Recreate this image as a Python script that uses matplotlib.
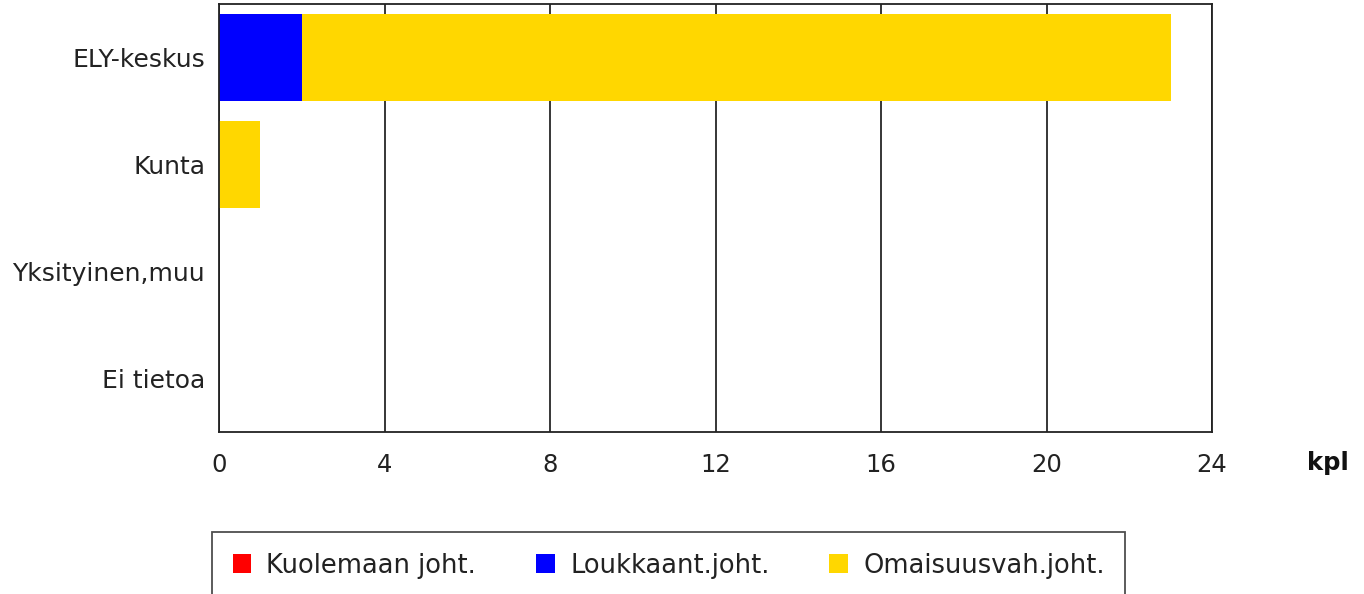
import matplotlib
matplotlib.use("Agg")
import matplotlib.pyplot as plt
from matplotlib.patches import Patch
import numpy as np

# Accident counts by road maintainer, stacked by severity
categories = ["ELY-keskus", "Kunta", "Yksityinen,muu", "Ei tietoa"]
fatal = [0, 0, 0, 0]
injury = [2, 0, 0, 0]
property_damage = [21, 1, 0, 0]

series_names = ["Kuolemaan joht.", "Loukkaant.joht.", "Omaisuusvah.joht."]
series_colors = ["#ff0000", "#0000ff", "#ffd700"]
x_ticks = [0, 4, 8, 12, 16, 20, 24]
unit_label = "kpl"

plt.rcParams["font.family"] = ["DejaVu Sans"]
FS = 18

W, H = 1364, 594
fig = plt.figure(figsize=(W / 100, H / 100), dpi=100)
ax = fig.add_axes([219 / W, 1 - 432 / H, (1212 - 219) / W, (432 - 4) / H])

y = np.arange(len(categories))
left = np.zeros(len(categories))
for vals, name, col in zip([fatal, injury, property_damage], series_names, series_colors):
    ax.barh(y, vals, left=left, height=0.81, color=col, label=name, zorder=2)
    left += np.array(vals)

ax.set_ylim(len(categories) - 0.5, -0.5)
ax.set_xlim(0, 24)
ax.set_xticks(x_ticks)
ax.set_xticklabels([str(t) for t in x_ticks], fontsize=17.5, color="#222222")
ax.set_yticks(y)
ax.set_yticklabels(categories, fontsize=FS, color="#222222")
ax.tick_params(axis="x", length=0, pad=15)
ax.tick_params(axis="y", length=0, pad=10)
ax.grid(axis="x", color="black", linewidth=1.1, zorder=1)
ax.set_axisbelow(True)
for sp in ax.spines.values():
    sp.set_color("#222222")
    sp.set_linewidth(1.3)

fig.text(1328 / W, 1 - 463 / H, unit_label, fontsize=17.5, fontweight="bold",
         ha="center", va="center", color="#111111")

handles = [Patch(facecolor=c, edgecolor="none") for c in series_colors]
leg = fig.legend(handles, series_names, loc="upper left", ncol=3,
                 bbox_to_anchor=(212 / W, 1 - 532 / H), fontsize=18.5,
                 frameon=True, fancybox=False, edgecolor="#222222",
                 handlelength=0.72, handleheight=0.72, handletextpad=0.6,
                 columnspacing=2.33, borderpad=0.8, borderaxespad=0)
leg.get_frame().set_linewidth(1.3)
for t in leg.get_texts():
    t.set_color("#222222")

fig.savefig("out.png", dpi=100)
